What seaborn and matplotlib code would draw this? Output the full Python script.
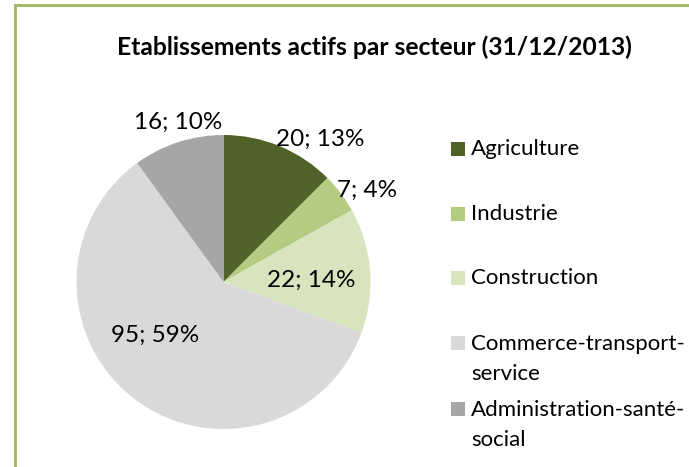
import numpy as np
import matplotlib
matplotlib.use("Agg")
import matplotlib.pyplot as plt
from matplotlib.patches import Rectangle
import seaborn as sns

# ---- data ----
categories = ["Agriculture", "Industrie", "Construction",
              "Commerce-transport-service", "Administration-santé-social"]
legend_labels = ["Agriculture", "Industrie", "Construction",
                 "Commerce-transport-\nservice", "Administration-santé-\nsocial"]
values = [20, 7, 22, 95, 16]
title = "Etablissements actifs par secteur (31/12/2013)"

# ---- style ----
colors = ["#4F6228", "#B3CC82", "#D7E4BD", "#D9D9D9", "#A6A6A6"]
label_dist = [1.17, 1.16, 0.60, 0.59, 1.13]
label_nudge = [-11.7, -4.5, -3.2, -15.2, -2.0]

sns.set_theme(style="white")
plt.rcParams["font.family"] = ["Lato", "DejaVu Sans"]

W, H = 689, 467
fig = plt.figure(figsize=(W / 100, H / 100), dpi=100)
fig.patch.set_facecolor("white")

def px(x, y):
    return x / W, 1 - y / H

# border (chart area frame, right/bottom parts outside the image)
fig.patches.append(Rectangle((15 / W, -0.1), 2.0, 1 - 5 / H + 0.1,
                             transform=fig.transFigure, fill=False,
                             edgecolor="#9BBB59", linewidth=2.0, zorder=0))

# pie axes: center (223.5, 282), radius 147 px
cx, cy, r = 223.5, 282, 147
ax = fig.add_axes([(cx - r) / W, (H - cy - r) / H, 2 * r / W, 2 * r / H])
wedges, _ = ax.pie(values, colors=sns.color_palette(colors), startangle=90,
                   counterclock=False, radius=1.0,
                   wedgeprops=dict(linewidth=0))
ax.set_xlim(-1, 1)
ax.set_ylim(-1, 1)
ax.set_aspect("equal")
ax.axis("off")

total = sum(values)
for w, v, d, n in zip(wedges, values, label_dist, label_nudge):
    mid = np.deg2rad((w.theta1 + w.theta2) / 2 + n)
    pct = int(v / total * 100 + 0.5)
    ax.text(d * np.cos(mid), d * np.sin(mid), f"{v}; {pct}%",
            ha="center", va="center", fontsize=17.5, color="#000000",
            clip_on=False)

# title
fig.text(*px(374, 47), title, ha="center", va="center", fontsize=17.7,
         fontweight="bold", color="#000000")

# legend (manual, Excel-like spacing)
row_y = [148.5, 213.5, 278, 343, 409]
line_step = 30
for lab, col, yy in zip(legend_labels, colors, row_y):
    fig.patches.append(Rectangle(px(451, yy + 7), 14 / W, 14 / H,
                                 transform=fig.transFigure, facecolor=col,
                                 edgecolor="none"))
    for j, line in enumerate(lab.split("\n")):
        fig.text(*px(471, yy + 6.5 + line_step * j), line, ha="left",
                 va="baseline", fontsize=16, color="#000000")

fig.savefig("out.png", dpi=100, facecolor="white")
